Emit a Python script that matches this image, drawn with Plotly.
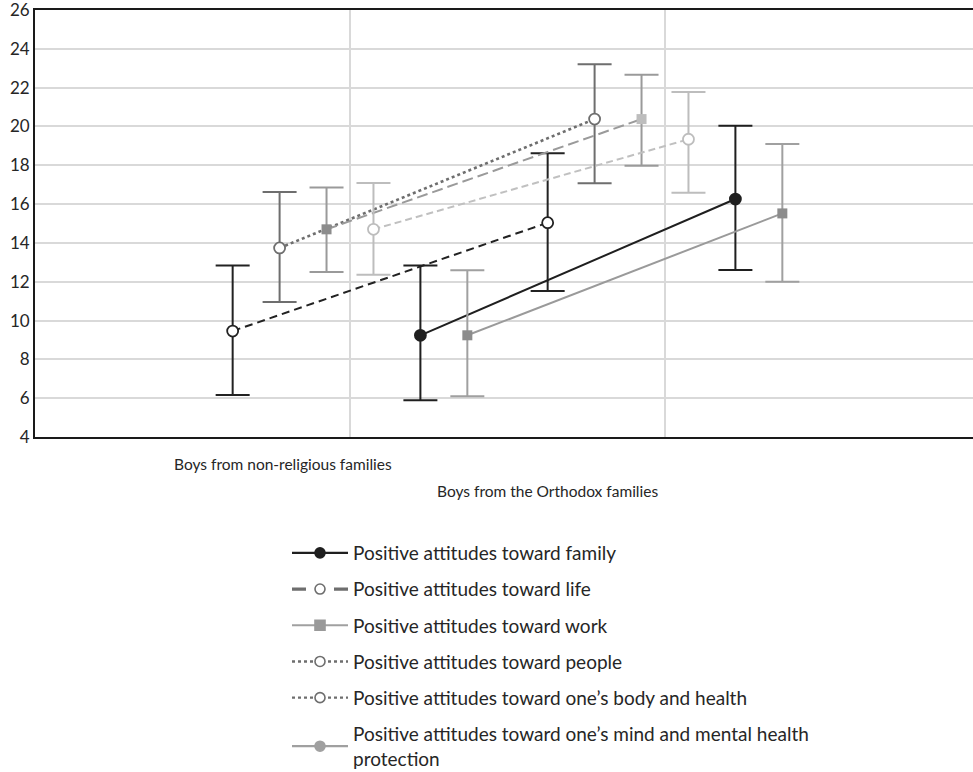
import plotly.graph_objects as go

# ---- data ----
categories = ["Boys from non-religious families", "Boys from the Orthodox families"]

life_mean = [9.46, 15.04]
life_low = [6.16, 11.52]
life_high = [12.83, 18.62]

people_mean = [13.74, 20.38]
people_low = [10.96, 17.07]
people_high = [16.62, 23.20]

mind_mean = [14.70, 20.38]
mind_low = [12.50, 17.97]
mind_high = [16.86, 22.67]

body_mean = [14.70, 19.34]
body_low = [12.36, 16.59]
body_high = [17.09, 21.77]

family_mean = [9.24, 16.26]
family_low = [5.89, 12.60]
family_high = [12.83, 20.04]

work_mean = [9.24, 15.52]
work_low = [6.10, 12.00]
work_high = [12.59, 19.10]

legend_names = [
    "Positive attitudes toward family",
    "Positive attitudes toward life",
    "Positive attitudes toward work",
    "Positive attitudes toward people",
    "Positive attitudes toward one’s body and health",
    "Positive attitudes toward one’s mind and mental health<br>protection",
]

y_ticks = [4, 6, 8, 10, 12, 14, 16, 18, 20, 22, 24, 26]

# ---- styling ----
FONT = "Lato, Carlito, Calibri, sans-serif"
cat_pos = [1, 2]
dodge = 0.149

plotted = [
    # (mean, low, high, name, line color, dash, marker symbol, marker fill, marker line, err color)
    (life_mean, life_low, life_high, legend_names[1], "#222222", "8px,5px", "circle", "white", "#222222", "#222222"),
    (people_mean, people_low, people_high, legend_names[3], "#6e6e6e", "dot", "circle", "white", "#6e6e6e", "#6e6e6e"),
    (mind_mean, mind_low, mind_high, legend_names[5], "#9a9a9a", "11px,5px", "square", ["#8c8c8c", "#bdbdbd"], "rgba(0,0,0,0)", "#9a9a9a"),
    (body_mean, body_low, body_high, legend_names[4], "#c0c0c0", "7px,4px", "circle", "white", "#bdbdbd", "#bdbdbd"),
    (family_mean, family_low, family_high, legend_names[0], "#1f1f1f", "solid", "circle", "#1f1f1f", "#1f1f1f", "#1f1f1f"),
    (work_mean, work_low, work_high, legend_names[2], "#9a9a9a", "solid", "square", "#8c8c8c", "rgba(0,0,0,0)", "#a0a0a0"),
]

fig = go.Figure()

n = len(plotted)
for i, (m, lo, hi, name, lc, dash, sym, mfill, mline, ec) in enumerate(plotted):
    xs = [c + (i - (n - 1) / 2) * dodge for c in cat_pos]
    fig.add_trace(go.Scatter(
        x=xs, y=m, mode="lines+markers", name=name.replace("<br>", " "),
        showlegend=False,
        line=dict(color=lc, width=2 if dash != "dot" else 2.6, dash=dash),
        marker=dict(symbol=sym, size=11 if sym == "circle" else 10, color=mfill,
                    line=dict(color=mline, width=1.8)),
        error_y=dict(type="data", symmetric=False,
                     array=[h - v for h, v in zip(hi, m)],
                     arrayminus=[v - l for v, l in zip(m, lo)],
                     color=ec, thickness=2, width=17),
        text=categories,
        hovertemplate="%{text}<br>%{y}<extra>" + name.replace("<br>", " ") + "</extra>",
    ))

# legend entries (styled like the reference legend)
legend_styles = [
    ("#1f1f1f", "solid", "circle", "#1f1f1f", "#1f1f1f", 2.2),
    ("#6e6e6e", "14px,28px,14px", "circle", "white", "#6e6e6e", 3.2),
    ("#a0a0a0", "solid", "square", "#999999", "#999999", 2.2),
    ("#6e6e6e", "dot", "circle", "white", "#6e6e6e", 2.4),
    ("#6e6e6e", "dot", "circle", "white", "#6e6e6e", 2.4),
    ("#a0a0a0", "solid", "circle", "#a0a0a0", "#a0a0a0", 2.2),
]
for k, (name, (lc, dash, sym, mfill, mline, lw)) in enumerate(zip(legend_names, legend_styles)):
    fig.add_trace(go.Scatter(
        x=[None], y=[None], mode="lines+markers", name=name,
        legendgroup=f"g{k}",
        line=dict(color=lc, width=lw, dash=dash),
        marker=dict(symbol=sym, size=10, color=mfill, line=dict(color=mline, width=1.6)),
    ))

fig.update_layout(
    width=973, height=772,
    margin=dict(l=35, r=0, t=10, b=335, autoexpand=False),
    paper_bgcolor="white", plot_bgcolor="white",
    font=dict(family=FONT, size=16, color="#262626"),
    xaxis=dict(range=[0, 938 / 315], tickvals=cat_pos, showticklabels=False,
               showgrid=True, gridcolor="#d9d9d9", gridwidth=1.5, zeroline=False,
               showline=True, linecolor="#1a1a1a", linewidth=1.8, mirror=True, ticks="",
               automargin=False),
    yaxis=dict(range=[4, 26], tickvals=y_ticks, showgrid=True, gridcolor="#d9d9d9",
               gridwidth=1.5, zeroline=False, showline=True, linecolor="#1a1a1a",
               linewidth=1.8, ticks="", automargin=False, ticklabeloverflow="allow",
               tickfont=dict(size=17, color="#262626")),
    showlegend=True,
    legend=dict(x=(287 - 35) / 938, xanchor="left", y=(437 - 534) / 427, yanchor="top",
                font=dict(size=19, color="#262626", family=FONT),
                tracegroupgap=8.5, itemwidth=56, bgcolor="rgba(0,0,0,0)"),
    annotations=[
        dict(text=categories[0], xref="paper", yref="paper",
             x=(283 - 35) / 938, y=(437 - 464) / 427, xanchor="center", yanchor="middle",
             showarrow=False, font=dict(size=15.5, color="#262626")),
        dict(text=categories[1], xref="paper", yref="paper",
             x=(547 - 35) / 938, y=(437 - 491) / 427, xanchor="center", yanchor="middle",
             showarrow=False, font=dict(size=15.5, color="#262626")),
    ],
)

fig.write_html("out.html",
               config={"displayModeBar": False},
               post_script="document.body.style.margin='0';document.body.style.padding='0';")
